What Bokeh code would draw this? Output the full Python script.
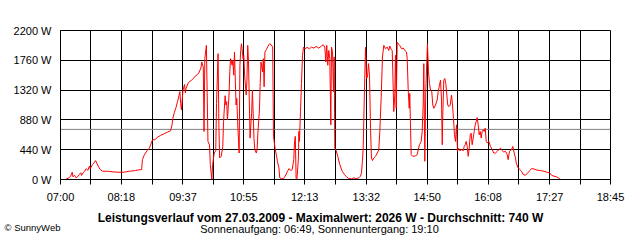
from bokeh.plotting import figure
from bokeh.models import Range1d, FixedTicker, Span, Label
from bokeh.layouts import column
from bokeh.embed import file_html
from bokeh.resources import INLINE

# ---- data (time in minutes of the day, power in W) ----
tick_labels = ["07:00", "08:18", "09:37", "10:55", "12:13", "13:32", "14:50", "16:08", "17:27", "18:45"]
y_ticks = [0, 440, 880, 1320, 1760, 2200]
y_labels = ["0 W", "440 W", "880 W", "1320 W", "1760 W", "2200 W"]
average_w = 740
title_text = "Leistungsverlauf vom 27.03.2009 - Maximalwert: 2026 W - Durchschnitt: 740 W"
sun_text = "Sonnenaufgang: 06:49, Sonnenuntergang: 19:10"
credit_text = "\u00a9 SunnyWeb"

times = [
    426, 428, 431, 433, 435, 436, 438, 440, 442, 444, 446,
    447, 449, 451, 453, 455, 457, 458, 461, 463, 465,
    467, 469, 471, 474, 480, 488, 495, 501, 508, 516,
    520, 524, 525, 527, 529, 531, 534, 537, 538, 541,
    544, 548, 552, 557, 561, 563, 564, 566, 568, 570,
    572, 573, 574, 575, 577, 579, 580, 581, 584, 588,
    591, 594, 597, 600, 601, 603, 604, 605, 607, 608,
    609, 611, 612, 614, 615, 617, 619, 620, 622, 623,
    624, 626, 628, 629, 631, 632, 633, 634, 636, 637,
    638, 640, 641, 642, 643, 645, 646, 647, 649, 650,
    651, 652, 654, 655, 656, 658, 659, 660, 661, 663,
    664, 665, 666, 668, 669, 671, 672, 673, 675, 676,
    677, 679, 680, 681, 682, 684, 686, 688, 690, 692,
    693, 695, 697, 698, 700, 701, 703, 706, 708, 711,
    713, 715, 717, 719, 720, 721, 722, 723, 725, 725.5,
    726.3, 727.6, 728.9, 730.2, 731.5, 733.1, 736.2, 739.2, 741.7, 744.7,
    747.8, 751.1, 754.5, 756.7, 758.8, 760.1, 761.3, 762.6, 763.9, 765.2,
    766.5, 767.4, 768.7, 769.9, 770.8, 771.6, 773.4, 775.4, 778, 781.1,
    784, 786.6, 789.5, 793, 796, 799, 802.4, 804.5, 805.8, 807,
    808, 809.7, 811, 812.3, 813.5, 814.8, 816.1, 817.4, 818.6, 819.9,
    821.6, 823.8, 826, 828, 829.3, 831.1, 832.7, 834.4, 836.6, 838.8,
    840.8, 842.1, 843.9, 845.2, 845.9, 847.2, 848.5, 849.4, 850.3, 851.6,
    852.8, 854.9, 857.1, 859.3, 861.3, 863.5, 864.4, 865.7, 867, 867.7,
    868.6, 869.5, 871.6, 875, 877.2, 878.5, 880.2, 882.3, 883.6, 884.9,
    885.7, 887, 888.2, 889.5, 890.4, 891.7, 893, 894.3, 895.9, 897.2,
    898.5, 900.7, 902.8, 904.1, 905.8, 907.1, 908.4, 909.3, 910, 911.3,
    912.6, 913.9, 915.2, 916.4, 917.7, 919.5, 921.2, 922.5, 923.7, 925,
    926.3, 927.6, 928.9, 930.2, 931.8, 934, 936.2, 937.5, 938.8, 940,
    941.3, 942.6, 943.9, 945.2, 946.4, 947.7, 949, 950.3, 951.6, 952.8,
    954.1, 955.4, 956.7, 958, 959.3, 960.5, 961.8, 963.1, 964.4, 965.7,
    967, 969, 971.2, 973.4, 975.4, 977.6, 979.8, 981.8, 984, 986.2,
    988.2, 990.4, 992.6, 993.8, 995.5, 998.1, 999.8, 1001.6, 1003.2, 1004.1,
    1006.2, 1008.7, 1010.9, 1013.1, 1016, 1019, 1021.6, 1023.7, 1026.7, 1031,
    1035.3, 1039.5, 1043.8, 1047.2, 1049.4, 1052.3, 1055.8, 1058, 1060,
]
watts = [
    0, 10, 25, 50, 107, 40, 63, 25, 40, 73, 100,
    60, 100, 122, 161, 135, 196, 157, 220, 244, 279,
    230, 181, 147, 122, 122, 112, 107, 107, 122, 132,
    141, 147, 293, 352, 391, 425, 464, 562, 587, 587,
    621, 650, 670, 699, 719, 807, 904, 992, 1061, 1149,
    1247, 1296, 1124, 1027, 1320, 1403, 1280, 1345, 1432, 1467,
    1500, 1540, 1564, 1647, 1735, 1660, 709, 1784, 1980, 1280,
    562, 513, 220, 0, 220, 391, 425, 1124, 1858, 807,
    318, 342, 489, 856, 1237, 1100, 1149, 880, 1247, 1589,
    1784, 1687, 1760, 1540, 1882, 1100, 1198, 856, 391, 1687,
    1907, 2004, 1784, 1833, 1540, 1247, 1467, 1980, 1735, 611,
    807, 978, 1320, 611, 440, 391, 440, 684, 1027, 1418,
    1735, 1589, 1784, 1369, 1882, 1921, 1970, 2004, 1990, 1955,
    636, 464, 342, 269, 171, 25, 10, 15, 50, 122,
    161, 132, 147, 293, 562, 636, 15, 0, 318, 709,
    562, 1002, 1418, 1833, 1955, 1930, 1950, 1930, 1955, 1940,
    1965, 1940, 1970, 1990, 1955, 1735, 1980, 1687, 1906, 1784,
    807, 1955, 1880, 1296, 1810, 464, 425, 342, 220, 122,
    73, 40, 15, 10, 25, 10, 25, 50, 98, 269,
    464, 1369, 1955, 1491, 1515, 1711, 1540, 758, 318, 279,
    318, 342, 391, 440, 709, 1222, 1809, 1980, 1930, 1955,
    1906, 1970, 1920, 1906, 1613, 1002, 1247, 1833, 1051, 2026,
    2004, 1980, 1930, 1940, 1906, 1882, 1784, 1320, 1051, 1270,
    807, 367, 342, 350, 367, 440, 513, 562, 709, 1100,
    1711, 269, 1296, 1735, 2004, 1589, 1418, 1320, 1296, 1100,
    1051, 1100, 1173, 1296, 1393, 1467, 1173, 513, 954, 1467,
    1491, 1418, 1247, 1100, 1076, 1100, 1247, 1100, 904, 660,
    562, 807, 416, 464, 425, 440, 425, 489, 513, 562,
    489, 342, 464, 660, 684, 513, 611, 709, 807, 856,
    914, 807, 660, 709, 611, 709, 733, 709, 758, 562,
    538, 562, 489, 440, 391, 391, 416, 440, 464, 425,
    406, 416, 367, 293, 416, 440, 489, 391, 318, 244,
    181, 147, 122, 73, 63, 98, 132, 161, 157, 137,
    132, 122, 107, 98, 63, 50, 40, 25, 10,
]
assert len(times) == len(watts)


def to_minutes(label):
    h, m = label.split(":")
    return int(h) * 60 + int(m)


x_major = [to_minutes(s) for s in tick_labels]
x_minor = [(a + b) / 2 for a, b in zip(x_major[:-1], x_major[1:])]

FONT = "Liberation Sans"

# ---------------- main chart (640 x 205) ----------------
p = figure(
    width=640, height=205, output_backend="svg", toolbar_location=None,
    x_range=Range1d(x_major[0], x_major[-1]), y_range=Range1d(y_ticks[0], y_ticks[-1]),
    min_border_left=60, min_border_right=30, min_border_top=30, min_border_bottom=25,
    background_fill_color="white", border_fill_color="white",
    outline_line_color="black", outline_line_width=1,
)

# x axis
p.xaxis.ticker = FixedTicker(ticks=x_major, minor_ticks=x_minor)
p.xaxis.major_label_overrides = {m: s for m, s in zip(x_major, tick_labels)}
p.xaxis.major_tick_out = 5
p.xaxis.major_tick_in = 0
p.xaxis.minor_tick_out = 5
p.xaxis.minor_tick_in = 0
p.xaxis.major_tick_line_color = "black"
p.xaxis.minor_tick_line_color = "black"
p.xaxis.axis_line_color = "black"
p.xaxis.major_label_standoff = 6
p.xaxis.major_label_text_font = FONT
p.xaxis.major_label_text_font_size = "11px"
p.xaxis.major_label_text_color = "black"

# y axis
p.yaxis.ticker = FixedTicker(ticks=y_ticks, minor_ticks=[])
p.yaxis.major_label_overrides = {v: s for v, s in zip(y_ticks, y_labels)}
p.yaxis.major_tick_out = 0
p.yaxis.major_tick_in = 0
p.yaxis.minor_tick_out = 0
p.yaxis.minor_tick_in = 0
p.yaxis.axis_line_color = "black"
p.yaxis.major_label_standoff = 9
p.yaxis.major_label_text_font = FONT
p.yaxis.major_label_text_font_size = "11px"
p.yaxis.major_label_text_color = "black"

# grid
p.xgrid.grid_line_color = "black"
p.xgrid.grid_line_alpha = 1
p.xgrid.minor_grid_line_color = "black"
p.xgrid.minor_grid_line_alpha = 1
p.ygrid.grid_line_color = "black"
p.ygrid.grid_line_alpha = 1

# average line
avg = Span(location=average_w, dimension="width", line_color="#808080", line_width=1, level="underlay")
p.add_layout(avg)

# power curve
p.line(times, watts, line_color="#ff0000", line_width=1)

# ---------------- caption strip (640 x 35), frame aligned with the chart ----------------
CAP_H = 35
credit_row = 22
cap = figure(
    width=640, height=CAP_H, output_backend="svg", toolbar_location=None,
    x_range=Range1d(60, 610), y_range=Range1d(CAP_H, 0),
    x_axis_type=None,
    min_border_left=60, min_border_right=30, min_border_top=0, min_border_bottom=0,
    background_fill_color="white", border_fill_color="white", outline_line_color=None,
)
cap.xgrid.visible = False
cap.ygrid.visible = False
# the credit sits left of the frame: shown as the strip's single y tick label
cap.yaxis.ticker = FixedTicker(ticks=[credit_row], minor_ticks=[])
cap.yaxis.major_label_overrides = {credit_row: credit_text}
cap.yaxis.axis_line_color = None
cap.yaxis.major_tick_line_color = None
cap.yaxis.minor_tick_line_color = None
cap.yaxis.major_tick_out = 0
cap.yaxis.major_tick_in = 0
cap.yaxis.major_label_standoff = 0
cap.yaxis.major_label_text_font = FONT
cap.yaxis.major_label_text_font_size = "9.5px"
cap.yaxis.major_label_text_color = "black"

cap.add_layout(Label(x=320, y=12, text=title_text,
                     text_font=FONT, text_font_size="12px", text_font_style="bold",
                     text_align="center", text_baseline="middle", text_color="black"))
cap.add_layout(Label(x=319, y=23, text=sun_text,
                     text_font=FONT, text_font_size="11px",
                     text_align="center", text_baseline="middle", text_color="black"))

layout = column(p, cap, spacing=0)
open("out.html", "w").write(file_html(layout, INLINE))
